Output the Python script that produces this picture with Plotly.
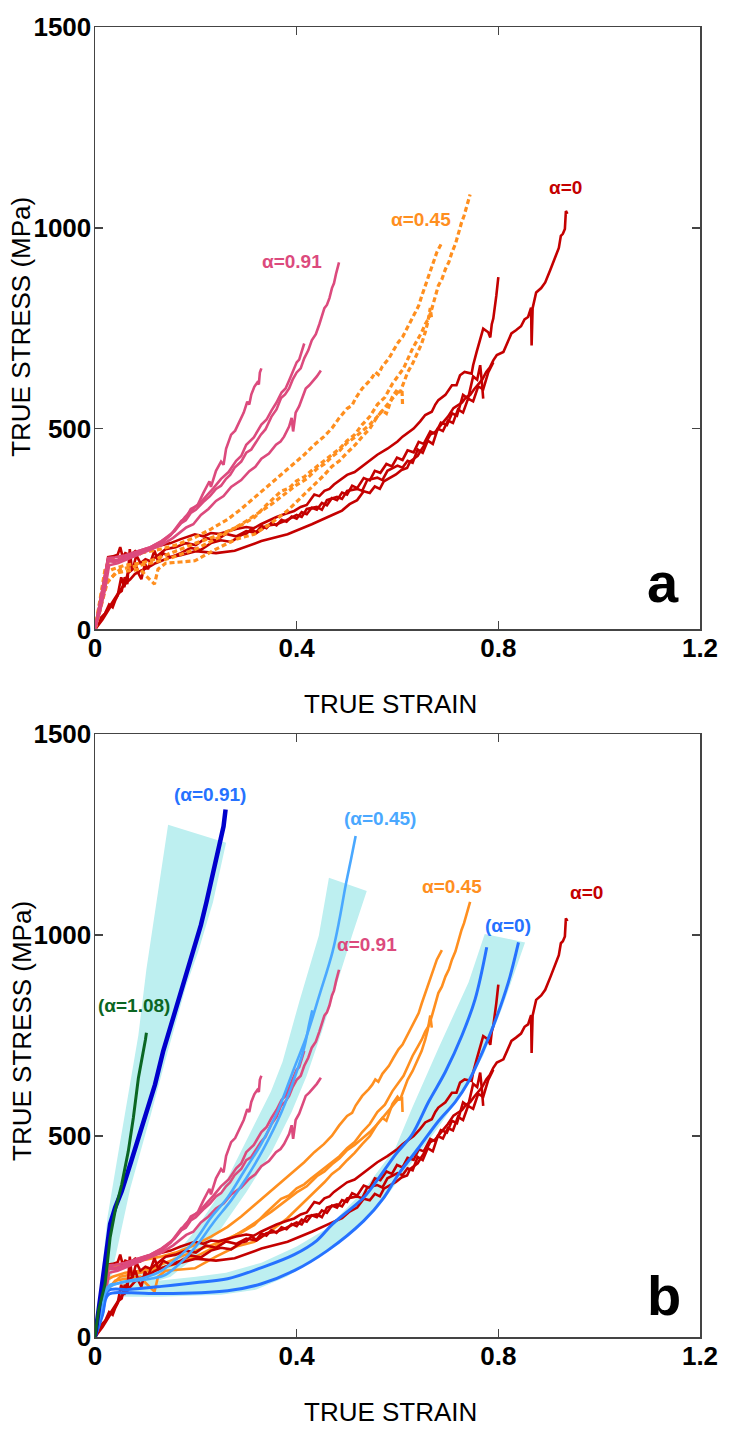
import plotly.graph_objects as go

# ---------------- data: experimental curves, (true strain, true stress MPa) ----------------
# alpha = 0 (red)
red_1 = [(0,0),(0.006,15),(0.012,30),(0.02,40),(0.028,62),(0.035,55),(0.04,72),(0.047,90),(0.053,96),(0.059,130),(0.064,113),(0.069,200),(0.073,150),(0.08,165),(0.086,140),(0.092,125),(0.099,163),(0.105,150),(0.112,175),(0.118,196),(0.125,170),(0.135,190),(0.15,180),(0.17,185),(0.2,195),(0.24,190),(0.277,196),(0.33,220),(0.382,237),(0.43,262),(0.474,287),(0.49,296),(0.505,312),(0.52,322),(0.533,344),(0.545,340),(0.555,356),(0.565,350),(0.573,369),(0.585,378),(0.597,386),(0.608,397),(0.619,402),(0.625,418),(0.632,425),(0.64,432),(0.645,443),(0.655,462),(0.665,485),(0.675,492),(0.69,515),(0.7,530),(0.711,551),(0.72,558),(0.728,565),(0.736,578),(0.744,584),(0.752,598),(0.76,610),(0.768,622),(0.776,641),(0.783,652),(0.79,670),(0.797,683),(0.81,691),(0.818,715),(0.826,737),(0.835,745),(0.845,755),(0.852,772),(0.859,778),(0.865,801),(0.866,707),(0.868,800),(0.875,839),(0.885,850),(0.893,864),(0.903,895),(0.913,930),(0.92,950),(0.924,980),(0.928,985),(0.932,997),(0.934,1042),(0.937,1035)]
red_2 = [(0,0),(0.008,50),(0.016,105),(0.022,150),(0.026,180),(0.035,182),(0.045,186),(0.05,205),(0.055,180),(0.06,190),(0.07,185),(0.08,195),(0.09,188),(0.1,200),(0.115,205),(0.13,210),(0.15,215),(0.17,225),(0.198,237),(0.215,232),(0.23,240),(0.245,238),(0.263,245),(0.28,250),(0.3,255),(0.315,252),(0.329,262),(0.345,272),(0.36,280),(0.378,288),(0.395,295),(0.408,305),(0.42,310),(0.435,336),(0.445,332),(0.455,345),(0.465,350),(0.474,361),(0.487,372),(0.5,385),(0.515,392),(0.533,410),(0.545,420),(0.56,435),(0.58,450),(0.6,468),(0.61,480),(0.62,490),(0.632,500),(0.645,518),(0.655,534),(0.668,542),(0.675,560),(0.681,571),(0.695,584),(0.708,608),(0.717,608),(0.724,633),(0.733,641),(0.747,637),(0.75,658),(0.757,691),(0.764,724),(0.77,749),(0.78,740),(0.784,727),(0.787,760),(0.79,774),(0.796,831),(0.80,877)]
red_3 = [(0,0),(0.01,20),(0.02,39),(0.03,60),(0.04,80),(0.05,98),(0.059,113),(0.07,125),(0.079,138),(0.09,146),(0.105,154),(0.12,165),(0.132,171),(0.15,180),(0.17,190),(0.19,203),(0.21,198),(0.23,215),(0.25,222),(0.27,218),(0.29,235),(0.30,238),(0.31,250),(0.32,242),(0.33,258),(0.34,252),(0.35,266),(0.36,259),(0.37,273),(0.38,268),(0.39,281),(0.40,276),(0.41,292),(0.42,287),(0.43,303),(0.44,298),(0.45,315),(0.46,309),(0.47,327),(0.48,322),(0.49,341),(0.50,336),(0.51,358),(0.52,352),(0.533,377),(0.545,371),(0.555,395),(0.566,390),(0.578,412),(0.589,406),(0.599,428),(0.61,422),(0.62,446),(0.632,441),(0.642,467),(0.652,462),(0.665,493),(0.675,487),(0.686,515),(0.698,509),(0.708,538),(0.718,532),(0.73,584),(0.74,575),(0.75,630),(0.758,622),(0.764,658),(0.767,621),(0.77,575)]
red_4 = [(0,0),(0.015,25),(0.03,55),(0.045,85),(0.052,130),(0.058,105),(0.065,140),(0.075,150),(0.082,185),(0.09,165),(0.1,175),(0.11,170),(0.125,185),(0.14,200),(0.16,205),(0.18,215),(0.2,210),(0.22,228),(0.24,222),(0.26,238),(0.28,232),(0.3,245),(0.32,240),(0.34,258),(0.36,262),(0.38,272),(0.4,285),(0.41,280),(0.42,300),(0.44,305),(0.45,298),(0.46,322),(0.48,330),(0.49,325),(0.5,345),(0.52,350),(0.53,345),(0.54,372),(0.56,378),(0.57,372),(0.58,395),(0.6,408),(0.61,403),(0.62,420),(0.63,415),(0.64,448),(0.65,440),(0.66,470),(0.67,462),(0.68,500),(0.69,494),(0.7,520),(0.71,514),(0.72,548),(0.73,540),(0.74,575),(0.75,568),(0.76,605),(0.77,598),(0.78,640),(0.79,665)]

# alpha = 0.91 (pink)
pink_1 = [(0,0),(0.008,55),(0.016,110),(0.022,150),(0.026,175),(0.04,172),(0.06,180),(0.085,195),(0.11,205),(0.132,220),(0.15,235),(0.171,265),(0.18,272),(0.19,290),(0.2,298),(0.217,320),(0.228,332),(0.24,350),(0.25,358),(0.26,375),(0.268,385),(0.277,403),(0.29,418),(0.3,440),(0.31,448),(0.329,485),(0.338,498),(0.35,530),(0.36,548),(0.369,576),(0.377,585),(0.385,600),(0.392,622),(0.4,640),(0.408,650),(0.415,675),(0.423,695),(0.43,720),(0.438,735),(0.445,760),(0.45,782),(0.455,800),(0.46,808),(0.465,825),(0.47,850),(0.474,862),(0.478,885),(0.484,914)]
pink_2 = [(0,0),(0.01,60),(0.02,130),(0.026,170),(0.04,168),(0.06,178),(0.085,190),(0.11,200),(0.132,215),(0.15,235),(0.171,270),(0.18,278),(0.19,300),(0.205,310),(0.22,330),(0.235,352),(0.25,375),(0.265,392),(0.28,420),(0.29,432),(0.3,460),(0.315,478),(0.33,510),(0.34,522),(0.35,545),(0.36,565),(0.37,590),(0.378,600),(0.385,620),(0.392,640),(0.4,665),(0.405,672),(0.41,695),(0.415,712)]
pink_3 = [(0,0),(0.01,45),(0.02,100),(0.028,160),(0.045,165),(0.065,175),(0.085,185),(0.11,198),(0.132,210),(0.155,228),(0.181,254),(0.195,262),(0.21,285),(0.225,300),(0.24,320),(0.255,332),(0.27,355),(0.29,372),(0.306,394),(0.318,405),(0.33,425),(0.345,438),(0.359,460),(0.368,468),(0.375,480),(0.385,505),(0.39,527),(0.393,493),(0.398,540),(0.405,556),(0.41,575),(0.418,600),(0.425,608),(0.43,615),(0.437,625),(0.44,630),(0.448,645)]
pink_4 = [(0,0),(0.01,70),(0.02,140),(0.026,178),(0.04,180),(0.06,185),(0.085,195),(0.11,205),(0.132,220),(0.145,232),(0.158,245),(0.168,262),(0.178,279),(0.19,295),(0.204,311),(0.215,340),(0.227,369),(0.23,355),(0.24,395),(0.25,418),(0.255,410),(0.26,450),(0.27,485),(0.278,495),(0.286,518),(0.295,540),(0.302,567),(0.306,560),(0.31,585),(0.316,604),(0.322,615),(0.325,610),(0.327,640),(0.33,650)]

# alpha = 0.45 (orange)
orange_1 = [(0,0),(0.01,70),(0.02,140),(0.035,150),(0.06,160),(0.09,165),(0.12,175),(0.16,195),(0.2,215),(0.25,237),(0.29,260),(0.316,279),(0.34,310),(0.369,344),(0.385,352),(0.4,370),(0.415,380),(0.428,394),(0.45,415),(0.47,435),(0.485,450),(0.5,470),(0.515,485),(0.53,510),(0.545,530),(0.56,560),(0.575,578),(0.59,612),(0.6,630),(0.612,650),(0.62,672),(0.63,700),(0.64,722),(0.648,740),(0.655,760),(0.662,775),(0.668,798),(0.675,830),(0.681,856),(0.688,872),(0.695,897),(0.702,915),(0.708,939),(0.715,960),(0.721,988),(0.727,1013),(0.732,1030),(0.737,1054),(0.744,1083)]
orange_2 = [(0,0),(0.01,80),(0.02,150),(0.03,175),(0.05,180),(0.07,185),(0.09,190),(0.11,196),(0.13,200),(0.16,210),(0.198,229),(0.23,250),(0.263,274),(0.29,300),(0.316,328),(0.34,355),(0.369,386),(0.39,410),(0.415,435),(0.435,460),(0.454,480),(0.47,501),(0.484,526),(0.5,550),(0.51,558),(0.517,576),(0.53,600),(0.543,617),(0.55,628),(0.556,641),(0.562,635),(0.57,655),(0.583,675),(0.592,695),(0.602,716),(0.61,728),(0.622,757),(0.632,780),(0.642,806),(0.648,830),(0.655,856),(0.662,878),(0.668,905),(0.673,920),(0.678,939),(0.688,963)]
orange_3 = [(0,0),(0.01,50),(0.02,110),(0.04,140),(0.06,145),(0.09,150),(0.1,135),(0.118,113),(0.125,150),(0.14,165),(0.17,168),(0.198,171),(0.24,200),(0.28,225),(0.316,237),(0.35,265),(0.381,295),(0.41,330),(0.435,361),(0.455,385),(0.47,406),(0.485,420),(0.5,440),(0.515,458),(0.53,480),(0.545,500),(0.56,530),(0.57,545),(0.578,538),(0.59,580),(0.6,598),(0.605,590),(0.62,640),(0.63,662),(0.64,690),(0.648,712),(0.655,740),(0.66,765),(0.665,800),(0.668,770)]
orange_4 = [(0,0),(0.012,60),(0.025,120),(0.05,150),(0.08,158),(0.11,165),(0.15,178),(0.2,200),(0.25,232),(0.3,270),(0.35,312),(0.4,360),(0.42,375),(0.44,400),(0.455,412),(0.47,430),(0.485,445),(0.5,465),(0.515,478),(0.53,495),(0.545,510),(0.56,530),(0.57,545),(0.58,560),(0.59,575),(0.6,590),(0.609,594),(0.61,560)]

# ---------------- data: model curves (panel b) ----------------
green_108 = [(0,0),(0.007,66),(0.02,132),(0.03,248),(0.04,314),(0.053,380),(0.066,462),(0.076,545),(0.086,644),(0.095,700),(0.1,740),(0.102,757)]
dblue_091 = [(0,0),(0.01,90),(0.02,185),(0.03,281),(0.04,322),(0.053,363),(0.072,438),(0.099,545),(0.119,628),(0.135,710),(0.155,792),(0.175,875),(0.194,958),(0.21,1025),(0.221,1082),(0.233,1145),(0.244,1205),(0.25,1240),(0.255,1271),(0.259,1313)]
lblue_045a = [(0,0),(0.01,60),(0.02,115),(0.03,130),(0.04,132),(0.066,140),(0.099,148),(0.132,165),(0.165,198),(0.198,239),(0.23,297),(0.263,347),(0.296,413),(0.329,479),(0.362,561),(0.395,669),(0.42,750),(0.445,850),(0.471,958),(0.485,1040),(0.497,1123),(0.508,1190),(0.517,1247)]
lblue_045b = [(0,0),(0.01,55),(0.02,110),(0.03,125),(0.05,135),(0.08,140),(0.11,145),(0.14,155),(0.17,185),(0.2,225),(0.235,285),(0.27,340),(0.3,395),(0.335,470),(0.37,560),(0.4,660),(0.415,720),(0.425,780),(0.431,813)]
blue_0a = [(0,0),(0.015,60),(0.026,115),(0.066,118),(0.132,126),(0.198,135),(0.263,145),(0.329,172),(0.395,205),(0.44,240),(0.471,281),(0.533,347),(0.563,396),(0.596,454),(0.629,504),(0.662,586),(0.695,660),(0.728,751),(0.754,841),(0.777,970)]
blue_0b = [(0,0),(0.015,55),(0.026,105),(0.066,110),(0.132,108),(0.263,115),(0.329,132),(0.395,165),(0.461,215),(0.533,289),(0.573,347),(0.602,405),(0.642,471),(0.681,537),(0.715,586),(0.741,636),(0.76,685),(0.793,784),(0.82,883),(0.84,982)]

# scatter bands (cyan) as polygons
band_091 = [(0,0),(0.012,150),(0.025,300),(0.045,450),(0.065,600),(0.086,751),(0.102,916),(0.122,1082),(0.145,1275),(0.26,1230),(0.234,1082),(0.205,960),(0.181,875),(0.142,700),(0.11,550),(0.07,370),(0.04,200),(0.02,80),(0,0)]
band_045 = [(0.05,150),(0.1,165),(0.15,190),(0.198,264),(0.25,363),(0.29,462),(0.349,611),(0.372,685),(0.405,834),(0.444,999),(0.464,1143),(0.539,1110),(0.51,1000),(0.48,880),(0.45,760),(0.42,650),(0.39,560),(0.35,460),(0.3,360),(0.25,270),(0.2,200),(0.15,150),(0.1,130),(0.05,125)]
band_0 = [(0.05,130),(0.13,140),(0.2,150),(0.26,160),(0.33,185),(0.4,225),(0.46,270),(0.53,360),(0.596,471),(0.629,570),(0.681,718),(0.741,883),(0.773,1003),(0.853,982),(0.833,908),(0.807,817),(0.77,700),(0.73,610),(0.68,520),(0.62,420),(0.56,320),(0.5,255),(0.44,195),(0.38,150),(0.32,118),(0.25,105),(0.13,100),(0.05,100)]

x_ticks = [0, 0.4, 0.8, 1.2]
x_tick_text = ["0", "0.4", "0.8", "1.2"]
y_ticks = [0, 500, 1000, 1500]
y_tick_text = ["0", "500", "1000", "1500"]

RED = "#C40000"
PINK = "#DC4A7D"
ORANGE = "#FF8F1F"
GREEN = "#0B6623"
DBLUE = "#0000CC"
LBLUE = "#4AA8FF"
MBLUE = "#2672FF"
CYAN = "#BDEFF0"
FONT = "Liberation Sans, Arial, sans-serif"

fig = go.Figure()


def xs(pts):
    return [p[0] for p in pts]


def ys(pts):
    return [p[1] for p in pts]


def add_line(pts, color, width, xa, ya, dash=None, shape="linear"):
    fig.add_trace(go.Scatter(x=xs(pts), y=ys(pts), mode="lines", xaxis=xa, yaxis=ya,
                             line=dict(color=color, width=width, dash=dash, shape=shape),
                             showlegend=False, hoverinfo="skip"))


def add_band(pts, xa, ya):
    fig.add_trace(go.Scatter(x=xs(pts), y=ys(pts), mode="lines", fill="toself", fillcolor=CYAN,
                             line=dict(width=0, color=CYAN), xaxis=xa, yaxis=ya,
                             showlegend=False, hoverinfo="skip"))


red_curves = [red_1, red_2, red_3, red_4]
pink_curves = [pink_1, pink_2, pink_3, pink_4]
orange_curves = [orange_1, orange_2, orange_3, orange_4]

# ---- panel a ----
for c in red_curves:
    add_line(c, RED, 2.6, "x", "y")
for c in orange_curves:
    add_line(c, ORANGE, 3.2, "x", "y", dash="5px,3px")
for c in pink_curves:
    add_line(c, PINK, 2.6, "x", "y")

# ---- panel b ----
add_band(band_091, "x2", "y2")
add_band(band_045, "x2", "y2")
add_band(band_0, "x2", "y2")
for c in orange_curves:
    add_line(c, ORANGE, 2.6, "x2", "y2")
for c in red_curves:
    add_line(c, RED, 2.6, "x2", "y2")
for c in pink_curves:
    add_line(c, PINK, 2.6, "x2", "y2")
add_line(blue_0a, MBLUE, 3, "x2", "y2", shape="spline")
add_line(blue_0b, MBLUE, 3, "x2", "y2", shape="spline")
add_line(lblue_045a, LBLUE, 2.6, "x2", "y2", shape="spline")
add_line(lblue_045b, LBLUE, 2.6, "x2", "y2", shape="spline")
add_line(dblue_091, DBLUE, 4.5, "x2", "y2")
add_line(green_108, GREEN, 3, "x2", "y2")

tickfont = dict(family=FONT, size=26, color="#000", weight="bold")
axis_common = dict(range=[0, 1.2], tickvals=x_ticks, ticktext=x_tick_text, ticks="inside",
                   ticklen=8, tickwidth=1.5, tickcolor="#444", showline=True, linecolor="#444",
                   linewidth=1.5, mirror="ticks", showgrid=False, zeroline=False,
                   tickfont=tickfont, ticklabelstandoff=-5, ticklabeloverflow="allow")
yaxis_common = dict(range=[0, 1500], tickvals=y_ticks, ticktext=y_tick_text, ticks="inside",
                    ticklen=8, tickwidth=1.5, tickcolor="#444", showline=True, linecolor="#444",
                    linewidth=1.5, mirror="ticks", showgrid=False, zeroline=False,
                    tickfont=tickfont, ticklabelstandoff=-3, ticklabeloverflow="allow")

fig.update_layout(
    width=730, height=1433,
    margin=dict(l=95, r=27, t=20, b=96),
    paper_bgcolor="white", plot_bgcolor="white",
    xaxis=dict(domain=[0, 1], anchor="y", **axis_common),
    yaxis=dict(domain=[0.5401, 1.0], anchor="x", **yaxis_common),
    xaxis2=dict(domain=[0, 1], anchor="y2", **axis_common),
    yaxis2=dict(domain=[0.0, 0.4601], anchor="x2", **yaxis_common),
    showlegend=False,
)

ann = []
for yc in [0.7714, 0.2339]:
    ann.append(dict(text="TRUE STRESS (MPa)", xref="paper", yref="paper", x=-0.1217, y=yc,
                    textangle=-90, showarrow=False, xanchor="center", yanchor="middle",
                    font=dict(family=FONT, size=26, color="#000")))
for yc in [0.4829, -0.0569]:
    ann.append(dict(text="TRUE STRAIN", xref="paper", yref="paper", x=0.4877, y=yc,
                    showarrow=False, xanchor="center", yanchor="middle",
                    font=dict(family=FONT, size=26, color="#000")))

ann.append(dict(text="<b>a</b>", xref="x", yref="y", x=1.127, y=118, showarrow=False,
                font=dict(family=FONT, size=56, color="#000")))
ann.append(dict(text="<b>b</b>", xref="x2", yref="y2", x=1.129, y=104, showarrow=False,
                font=dict(family=FONT, size=56, color="#000")))

labels_a = [("α=0.91", 0.391, 916, PINK), ("α=0.45", 0.6475, 1021, ORANGE), ("α=0", 0.934, 1100, RED)]
labels_b = [("(α=0.91)", 0.229, 1350, MBLUE), ("(α=0.45)", 0.566, 1291, LBLUE),
            ("α=0.45", 0.709, 1120, ORANGE), ("α=0", 0.975, 1106, RED),
            ("(α=0)", 0.82, 1025, MBLUE), ("α=0.91", 0.539, 977, PINK),
            ("(α=1.08)", 0.077, 824, GREEN)]
for t, x, y, c in labels_a:
    ann.append(dict(text=t, xref="x", yref="y", x=x, y=y, showarrow=False,
                    font=dict(family=FONT, size=19, color=c, weight="bold")))
for t, x, y, c in labels_b:
    ann.append(dict(text=t, xref="x2", yref="y2", x=x, y=y, showarrow=False,
                    font=dict(family=FONT, size=19, color=c, weight="bold")))

fig.update_layout(annotations=ann)
fig.write_html("out.html", config={"displayModeBar": False, "staticPlot": True},
               post_script="document.body.style.margin='0px';")
